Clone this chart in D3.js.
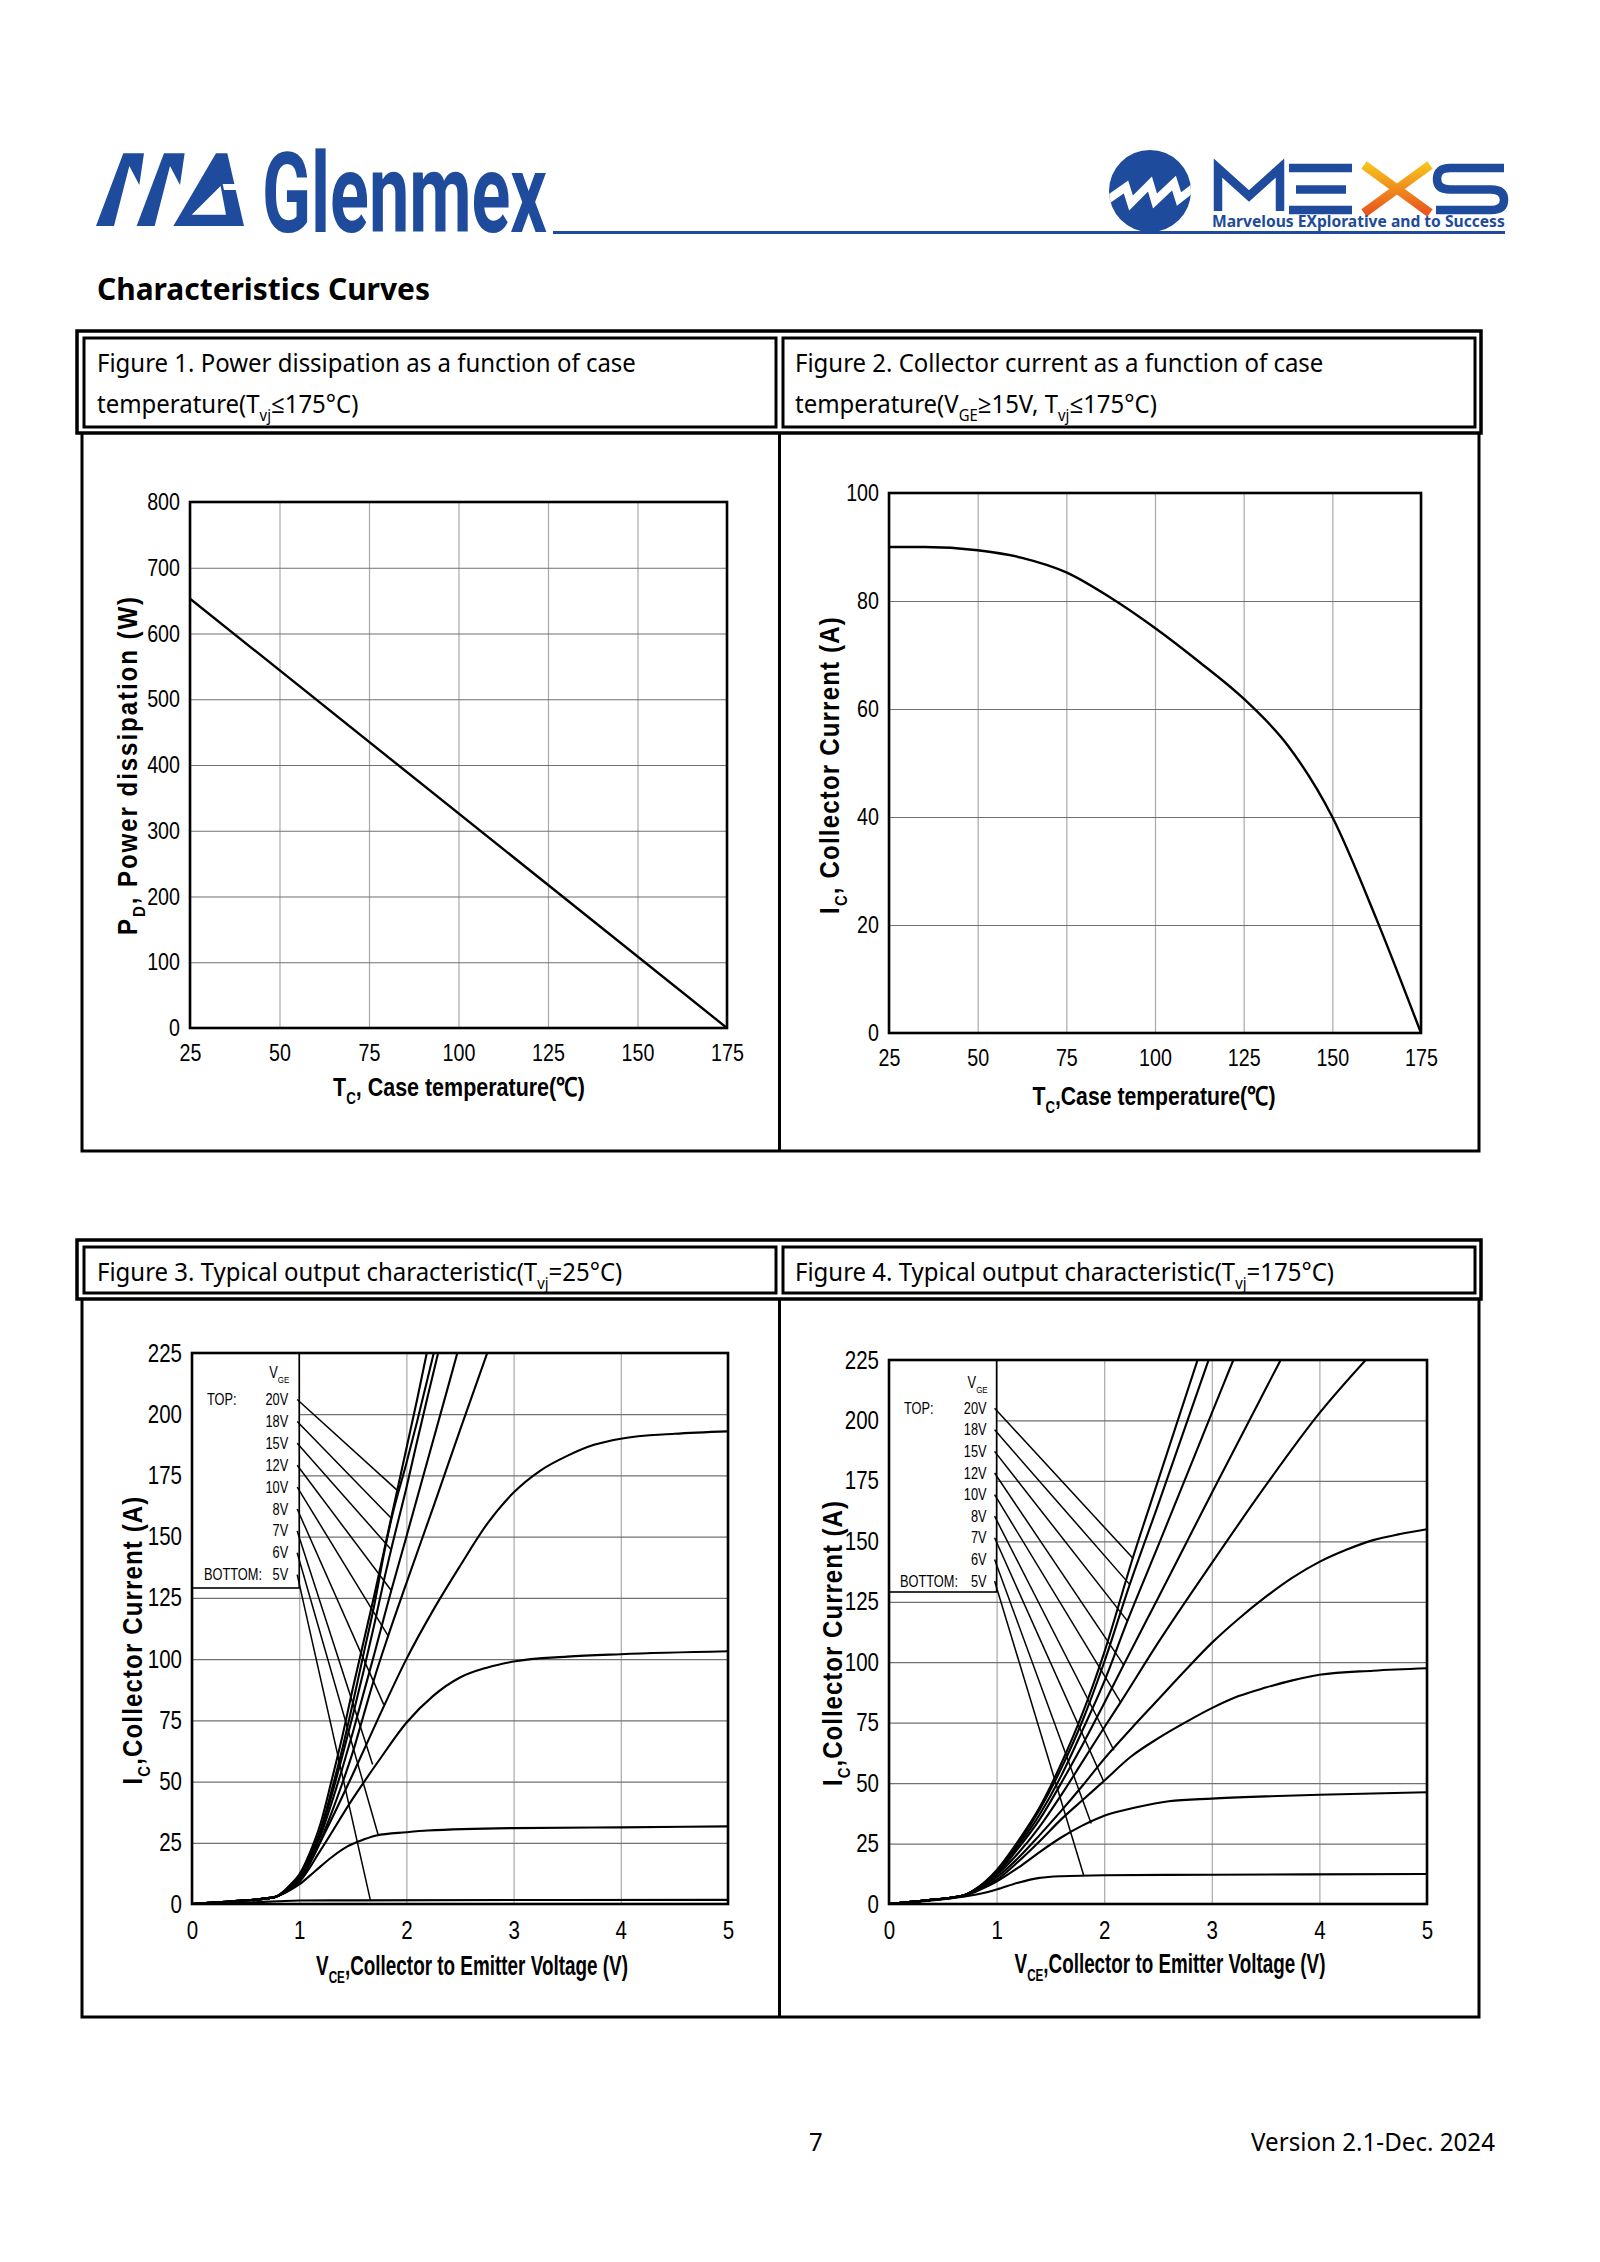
<!DOCTYPE html>
<html>
<head>
<meta charset="utf-8">
<title>Characteristics Curves</title>
<script src="https://cdn.jsdelivr.net/npm/d3@7/dist/d3.min.js"></script>
<style>
html,body{margin:0;padding:0;background:#fff;}
svg{display:block;}
</style>
</head>
<body>
<svg id="page" width="1600" height="2262" xmlns="http://www.w3.org/2000/svg"></svg>
<script>
// ================= DATA =================
// Figure 1: power dissipation vs case temperature
const fig1Temperature = [25, 175];
const fig1Power = [653, 0];
const fig1XTicks = [25, 50, 75, 100, 125, 150, 175];
const fig1YTicks = [0, 100, 200, 300, 400, 500, 600, 700, 800];

// Figure 2: collector current vs case temperature
const fig2Temperature = [25, 35, 50, 62.5, 75, 87.5, 100, 112.5, 125, 137.5, 150, 162.5, 175];
const fig2Current = [90, 90, 89.4, 88, 85.3, 80.6, 75, 68.7, 61.9, 53.2, 40, 21, 0];
const fig2XTicks = [25, 50, 75, 100, 125, 150, 175];
const fig2YTicks = [0, 20, 40, 60, 80, 100];

// Figures 3 and 4: output characteristics, [VCE (V), IC (A)]
const vgeLabels = ["20V", "18V", "15V", "12V", "10V", "8V", "7V", "6V", "5V"];
const outXTicks = [0, 1, 2, 3, 4, 5];
const outYTicks = [0, 25, 50, 75, 100, 125, 150, 175, 200, 225];

const fig3Curve20V = [[0,0],[0.4,1.2],[0.77,2.8],[0.85,5],[0.92,8],[1.0,12],[1.1,21],[1.2,33],[1.3,50],[1.4,68],[1.5,88],[1.6,107],[1.7,126],[1.8,146],[1.9,166],[2.0,186],[2.1,206],[2.19,225]];
const fig3Curve18V = [[0,0],[0.4,1.2],[0.77,2.8],[0.85,4.8],[0.92,7.5],[1.0,11],[1.1,19.5],[1.2,30.5],[1.3,46],[1.4,63],[1.5,82],[1.6,102],[1.7,122],[1.8,145],[1.859,157],[2.0,180],[2.1,197],[2.2,215],[2.255,225]];
const fig3Curve15V = [[0,0],[0.4,1.2],[0.77,2.8],[0.85,4.7],[0.92,7.3],[1.0,11],[1.1,19],[1.2,29.5],[1.3,44],[1.4,60],[1.5,77],[1.6,95],[1.7,114],[1.8,134],[1.859,145],[2.0,170],[2.1,189],[2.2,207.5],[2.296,225]];
const fig3Curve12V = [[0,0],[0.4,1.2],[0.77,2.8],[0.85,4.6],[0.92,7],[1.0,10.5],[1.1,18],[1.2,28],[1.3,41],[1.4,55],[1.5,70],[1.6,86],[1.7,102],[1.8,118.5],[1.859,128],[2.0,150],[2.2,181.5],[2.4,213],[2.475,225]];
const fig3Curve10V = [[0,0],[0.4,1.2],[0.77,2.8],[0.85,4.5],[0.92,6.8],[1.0,10],[1.1,17],[1.2,26],[1.3,37],[1.4,49],[1.5,62],[1.6,77],[1.7,92],[1.83,109.5],[2.0,131],[2.25,162],[2.5,193.5],[2.754,225]];
const fig3Curve8V = [[0,0],[0.4,1.2],[0.77,2.8],[0.85,4.4],[0.92,6.5],[1.0,9.5],[1.25,30],[1.5,53],[1.75,77],[2.0,100],[2.25,120],[2.5,138],[2.75,155],[3.0,168],[3.25,177],[3.5,183],[3.75,187.5],[4.0,190],[4.5,192],[5.0,193]];
const fig3Curve7V = [[0,0],[0.4,1.2],[0.77,2.8],[0.85,4.3],[0.92,6.2],[1.0,9],[1.2,22],[1.5,43],[1.75,59],[2.0,74],[2.25,85],[2.5,92.5],[2.75,96.5],[3.0,99],[3.5,101],[4.0,102],[5.0,103.2]];
const fig3Curve6V = [[0,0],[0.4,1.2],[0.77,2.8],[0.85,4.2],[0.92,5.8],[1.0,8],[1.15,13.5],[1.3,19],[1.45,23.5],[1.6,26.3],[1.72,28],[2.0,29.3],[2.2,30],[3.0,31],[4.0,31.3],[5.0,31.7]];
const fig3Curve5V = [[0,0],[0.5,0.6],[0.8,1.1],[1.0,1.4],[1.5,1.5],[5.0,1.7]];
const fig3LeaderV = [1.913, 1.859, 1.859, 1.859, 1.83, 1.789, 1.685, 1.735, 1.664];
const fig3LeaderI = [169, 157.5, 144.7, 128, 109.5, 81.4, 57, 28.5, 1.6];

const fig4Curve20V = [[0,0],[0.35,1.5],[0.69,3.5],[0.8,6],[0.9,9.5],[1.0,14],[1.2,26],[1.4,40],[1.6,58],[1.8,79],[2.0,104],[2.265,143],[2.5,175],[2.868,225]];
const fig4Curve18V = [[0,0],[0.35,1.5],[0.69,3.5],[0.8,6],[0.9,9.3],[1.0,13.5],[1.2,25],[1.4,39],[1.6,56],[1.8,76],[2.0,100],[2.236,132],[2.5,165],[2.97,225]];
const fig4Curve15V = [[0,0],[0.35,1.5],[0.69,3.5],[0.8,5.9],[0.9,9],[1.0,13],[1.2,24],[1.4,37],[1.6,53],[1.8,72],[2.0,92],[2.215,117],[2.5,148],[3.0,203],[3.2,225]];
const fig4Curve12V = [[0,0],[0.35,1.5],[0.69,3.5],[0.8,5.8],[0.9,8.8],[1.0,12.5],[1.2,23],[1.4,35],[1.6,50],[1.8,66],[2.0,83],[2.182,99],[2.5,126.5],[3.0,170],[3.5,213],[3.64,225]];
const fig4Curve10V = [[0,0],[0.35,1.5],[0.69,3.5],[0.8,5.7],[0.9,8.5],[1.0,12],[1.2,21],[1.4,32],[1.6,45],[1.8,59],[2.0,73],[2.153,83.5],[2.5,108],[3.0,141],[3.5,173],[4.0,203],[4.43,225]];
const fig4Curve8V = [[0,0],[0.35,1.5],[0.69,3.5],[0.8,5.5],[0.9,8],[1.0,11],[1.2,19],[1.4,28.5],[1.6,38.5],[1.8,49],[2.0,60],[2.25,72.5],[2.5,84.5],[2.75,96.5],[3.0,108],[3.25,118],[3.5,127],[3.75,135],[4.0,141.5],[4.25,146.5],[4.5,150.5],[4.75,153],[5.0,155]];
const fig4Curve7V = [[0,0],[0.35,1.5],[0.69,3.5],[0.8,5.3],[0.9,7.5],[1.0,10],[1.2,17.5],[1.4,26],[1.6,35],[1.8,43],[2.0,51],[2.25,61],[2.5,68.5],[2.75,75],[3.0,81],[3.25,86],[3.5,89.5],[3.75,92.5],[4.0,94.8],[4.5,96.5],[5.0,97.5]];
const fig4Curve6V = [[0,0],[0.35,1.5],[0.69,3.3],[0.8,5],[0.9,7],[1.0,9.3],[1.2,15],[1.4,21.5],[1.6,27.5],[1.8,32.5],[2.0,36.5],[2.3,40],[2.6,42.5],[3.0,43.6],[3.5,44.5],[4.0,45.2],[5.0,46.2]];
const fig4Curve5V = [[0,0],[0.35,1.3],[0.69,3],[0.8,3.8],[0.9,4.8],[1.0,6],[1.2,8.8],[1.4,10.8],[1.6,11.5],[2.0,11.9],[3.0,12.1],[5.0,12.4]];
const fig4LeaderV = [2.265, 2.236, 2.215, 2.182, 2.153, 2.09, 1.995, 1.879, 1.81];
const fig4LeaderI = [143.1, 132.2, 117.1, 98.8, 83.4, 63.6, 50.7, 33.3, 11.75];

// ================= DRAWING =================
const page = d3.select('#page');
const SANS = "'Liberation Sans', Arial, Helvetica, sans-serif";
const NOTO = "'Noto Sans', 'Open Sans', 'DejaVu Sans', sans-serif";
const BLUE = '#1e4b9b';
const NARROW = 0.82;

page.append('rect').attr('width', 1600).attr('height', 2262).attr('fill', '#fff');

function addText(parent, o) {
  const t = parent.append('text')
    .attr('font-family', o.family || SANS)
    .attr('font-size', o.size)
    .attr('font-weight', o.weight || 'normal')
    .attr('text-anchor', o.anchor || 'start')
    .attr('fill', o.fill || '#000');
  const parts = o.parts || [[o.str, 0]];
  const shift = o.size * 0.3;
  let prevSub = false;
  parts.forEach(([s, sub]) => {
    const sp = t.append('tspan').text(s);
    if (sub) sp.attr('font-size', o.size * 0.62).attr('dy', shift);
    else if (prevSub) sp.attr('dy', -shift);
    prevSub = !!sub;
  });
  let sx = o.sx || 1;
  if (o.fitWidth) {
    const w = t.node().getComputedTextLength();
    if (o.fitMode === 'spacing') {
      const n = parts.map(p => p[0]).join('').length;
      t.attr('letter-spacing', (o.fitWidth / sx - w) / n);
    } else {
      sx = o.fitWidth / w;
    }
  }
  t.attr('transform', `translate(${o.x},${o.y}) rotate(${o.rot || 0}) scale(${sx},1)`);
  t.node().__sx = sx;
  return t;
}

// ---------- Header logos ----------
const logoL = page.append('g').attr('transform', 'translate(90,140) scale(0.3333)').attr('fill', BLUE);
logoL.append('polygon').attr('points', '18,258 72,258 118,78 148,135 162,40 100,40');
logoL.append('polygon').attr('points', '140,258 194,258 240,78 270,135 284,40 222,40');
logoL.append('polygon').attr('points', '250,258 462,258 412,40 378,40');
logoL.append('polygon').attr('points', '305,224 408,224 392,138').attr('fill', '#fff');
logoL.append('polygon').attr('points', '398,132 452,132 456,150 402,150').attr('fill', '#fff');
addText(page, {x: 262, y: 232, str: 'Glenmex', size: 112, weight: 'bold', family: "Roboto, 'Liberation Sans', sans-serif", fill: BLUE, fitWidth: 285});

page.append('line').attr('x1', 553).attr('x2', 1505).attr('y1', 232.5).attr('y2', 232.5)
  .attr('stroke', BLUE).attr('stroke-width', 3);

// MEXS logo
const defs = page.append('defs');
const grad = defs.append('linearGradient').attr('id', 'xgrad').attr('x1', 0).attr('y1', 0).attr('x2', 0).attr('y2', 1);
grad.append('stop').attr('offset', '0%').attr('stop-color', '#f6c21c');
grad.append('stop').attr('offset', '100%').attr('stop-color', '#e8551e');
defs.append('clipPath').attr('id', 'circClip').append('circle').attr('cx', 1150).attr('cy', 191).attr('r', 41);
page.append('circle').attr('cx', 1150).attr('cy', 191).attr('r', 41).attr('fill', BLUE);
page.append('polyline').attr('clip-path', 'url(#circClip)')
  .attr('points', '1106,201 1126,187 1131,203 1150,184 1155,201 1174,183 1179,199 1196,186')
  .attr('fill', 'none').attr('stroke', '#fff').attr('stroke-width', 8).attr('stroke-linejoin', 'miter');
const mexs = page.append('g').attr('fill', 'none').attr('stroke-width', 8.5);
mexs.append('polyline').attr('points', '1218,211 1218,168 1249,196 1280,168 1280,211').attr('stroke', BLUE).attr('stroke-linejoin', 'miter');
mexs.append('line').attr('x1', 1289).attr('x2', 1352).attr('y1', 168).attr('y2', 168).attr('stroke', BLUE);
mexs.append('line').attr('x1', 1296).attr('x2', 1346).attr('y1', 189.5).attr('y2', 189.5).attr('stroke', BLUE);
mexs.append('line').attr('x1', 1289).attr('x2', 1352).attr('y1', 210).attr('y2', 210).attr('stroke', BLUE);
mexs.append('path').attr('d', 'M1364,165 L1397,189 L1364,213 M1430,165 L1397,189 L1430,213').attr('stroke', 'url(#xgrad)').attr('stroke-width', 9);
mexs.append('path').attr('d', 'M1504,168 H1450 Q1437,168 1437,179 Q1437,189.5 1450,189.5 H1491 Q1504,189.5 1504,200 Q1504,210 1491,210 H1436').attr('stroke', BLUE);
addText(page, {x: 1212, y: 226.5, str: 'Marvelous EXplorative and to Success', size: 16, weight: 'bold', family: NOTO, fill: BLUE, fitWidth: 293});

addText(page, {x: 97, y: 300, str: 'Characteristics Curves', size: 31, weight: 'bold', family: NOTO, fitWidth: 333});

// ---------- Tables ----------
function headerRow(top, bottom) {
  const g = page.append('g').attr('fill', 'none').attr('stroke', '#000');
  g.append('rect').attr('x', 77).attr('y', top).attr('width', 1404).attr('height', bottom - top).attr('stroke-width', 3.5);
  g.append('rect').attr('x', 84).attr('y', top + 7).attr('width', 692).attr('height', bottom - top - 13).attr('stroke-width', 3);
  g.append('rect').attr('x', 783).attr('y', top + 7).attr('width', 692).attr('height', bottom - top - 13).attr('stroke-width', 3);
}
function bodyRow(top, bottom) {
  const g = page.append('g').attr('fill', 'none').attr('stroke', '#000').attr('stroke-width', 3);
  g.append('path').attr('d', `M82,${top} V${bottom} H1479 V${top} M779.5,${top} V${bottom}`);
}
headerRow(331, 433);
bodyRow(433, 1151);
headerRow(1240, 1299);
bodyRow(1299, 2017);

// header texts
const h1 = addText(page, {x: 97, y: 372, str: 'Figure 1. Power dissipation as a function of case', size: 25, family: NOTO, fitWidth: 539});
const HSX = h1.node().__sx;
addText(page, {x: 97, y: 413, parts: [['temperature(T', 0], ['vj', 1], ['≤175°C)', 0]], size: 25, family: NOTO, sx: HSX});
addText(page, {x: 795, y: 372, str: 'Figure 2. Collector current as a function of case', size: 25, family: NOTO, sx: HSX});
addText(page, {x: 795, y: 413, parts: [['temperature(V', 0], ['GE', 1], ['≥15V, T', 0], ['vj', 1], ['≤175°C)', 0]], size: 25, family: NOTO, sx: HSX});
addText(page, {x: 97, y: 1281, parts: [['Figure 3. Typical output characteristic(T', 0], ['vj', 1], ['=25°C)', 0]], size: 25, family: NOTO, sx: HSX});
addText(page, {x: 795, y: 1281, parts: [['Figure 4. Typical output characteristic(T', 0], ['vj', 1], ['=175°C)', 0]], size: 25, family: NOTO, sx: HSX});

// footer
addText(page, {x: 809, y: 2151, str: '7', size: 25, family: NOTO, sx: HSX});
addText(page, {x: 1495, y: 2151, str: 'Version 2.1-Dec. 2024', size: 25, family: NOTO, anchor: 'end', fitWidth: 244});

// ---------- Chart helper ----------
let clipId = 0;
function drawChart(c) {
  const g = page.append('g');
  const x = d3.scaleLinear().domain(c.xDomain).range([c.left, c.right]);
  const y = d3.scaleLinear().domain(c.yDomain).range([c.bottom, c.top]);
  const W = c.right - c.left, H = c.bottom - c.top;

  // grid
  g.append('g').attr('transform', `translate(0,${c.bottom})`)
    .call(d3.axisBottom(x).tickValues(c.xTicks).tickSize(-H).tickFormat(''))
    .call(a => { a.select('.domain').remove(); a.selectAll('line').attr('stroke', '#a9a9a9').attr('stroke-width', 1.2); });
  g.append('g').attr('transform', `translate(${c.left},0)`)
    .call(d3.axisLeft(y).tickValues(c.yTicks).tickSize(-W).tickFormat(''))
    .call(a => { a.select('.domain').remove(); a.selectAll('line').attr('stroke', '#707070').attr('stroke-width', 1.2); });

  // tick labels
  const styleLabels = a => {
    a.select('.domain').remove();
    a.selectAll('.tick line').remove();
    a.selectAll('.tick text').each(function () {
      const t = d3.select(this);
      const tx = +t.attr('x') || 0;
      t.attr('x', tx / NARROW).attr('transform', `scale(${NARROW},1)`)
        .attr('font-family', SANS).attr('font-size', c.tickSize).attr('fill', '#000');
    });
  };
  g.append('g').attr('transform', `translate(0,${c.bottom})`)
    .call(d3.axisBottom(x).tickValues(c.xTicks).tickSize(0).tickPadding(c.xPad).tickFormat(d3.format('d')))
    .call(styleLabels);
  g.append('g').attr('transform', `translate(${c.left},0)`)
    .call(d3.axisLeft(y).tickValues(c.yTicks).tickSize(0).tickPadding(10).tickFormat(d3.format('d')))
    .call(styleLabels);

  // titles
  addText(g, {x: c.xTitle[0], y: c.xTitle[1], parts: c.xTitleParts, size: c.titleSize, weight: 'bold', anchor: 'middle', fitWidth: c.xTitle[2]});
  addText(g, {x: c.yTitle[0], y: c.yTitle[1], parts: c.yTitleParts, size: c.yTitleSize, weight: 'bold', anchor: 'middle', rot: -90, sx: 0.86, fitMode: 'spacing', fitWidth: c.yTitle[2]});

  const id = 'clip' + (clipId++);
  g.append('clipPath').attr('id', id).append('rect').attr('x', c.left).attr('y', c.top).attr('width', W).attr('height', H);
  const plot = g.append('g').attr('clip-path', `url(#${id})`);
  return {g, plot, x, y};
}

// ---------- Figure 1 ----------
{
  const ch = drawChart({left: 190, right: 727, top: 502, bottom: 1028, xDomain: [25, 175], yDomain: [0, 800],
    xTicks: fig1XTicks, yTicks: fig1YTicks, tickSize: 24, xPad: 16, titleSize: 26, yTitleSize: 28,
    xTitle: [459, 1096, 252], xTitleParts: [['T', 0], ['C', 1], [', Case temperature(℃)', 0]],
    yTitle: [137, 765, 340], yTitleParts: [['P', 0], ['D', 1], [', Power dissipation (W)', 0]]});
  const pts = fig1Temperature.map((t, i) => [t, fig1Power[i]]);
  ch.plot.append('path').datum(pts)
    .attr('d', d3.line().x(d => ch.x(d[0])).y(d => ch.y(d[1])))
    .attr('fill', 'none').attr('stroke', '#000').attr('stroke-width', 2.4);
  ch.g.append('rect').attr('x', 190).attr('y', 502).attr('width', 537).attr('height', 526)
    .attr('fill', 'none').attr('stroke', '#000').attr('stroke-width', 2.6);
}

// ---------- Figure 2 ----------
{
  const ch = drawChart({left: 889, right: 1421, top: 493, bottom: 1033, xDomain: [25, 175], yDomain: [0, 100],
    xTicks: fig2XTicks, yTicks: fig2YTicks, tickSize: 24, xPad: 16, titleSize: 26, yTitleSize: 28,
    xTitle: [1154, 1105, 243], xTitleParts: [['T', 0], ['C', 1], [',Case temperature(℃)', 0]],
    yTitle: [839, 765, 298], yTitleParts: [['I', 0], ['C', 1], [', Collector Current (A)', 0]]});
  const pts = fig2Temperature.map((t, i) => [t, fig2Current[i]]);
  ch.plot.append('path').datum(pts)
    .attr('d', d3.line().x(d => ch.x(d[0])).y(d => ch.y(d[1])).curve(d3.curveMonotoneX))
    .attr('fill', 'none').attr('stroke', '#000').attr('stroke-width', 2.4);
  ch.g.append('rect').attr('x', 889).attr('y', 493).attr('width', 532).attr('height', 540)
    .attr('fill', 'none').attr('stroke', '#000').attr('stroke-width', 2.6);
}

// ---------- Figures 3 & 4 ----------
function outputChart(c, curves, leaderV, leaderI) {
  const ch = drawChart(Object.assign({xDomain: [0, 5], yDomain: [0, 225], xTicks: outXTicks, yTicks: outYTicks,
    tickSize: 25, xPad: 17, titleSize: 27, yTitleSize: 28,
    xTitleParts: [['V', 0], ['CE', 1], [',Collector to Emitter Voltage (V)', 0]],
    yTitleParts: [['I', 0], ['C', 1], [',Collector Current (A)', 0]]}, c));
  const {g, plot, x, y} = ch;
  const boxR = x(1);
  const LS = 16, LSX = 0.8;
  // legend box
  g.append('rect').attr('x', c.left).attr('y', c.top).attr('width', boxR - c.left).attr('height', c.boxH)
    .attr('fill', '#fff').attr('stroke', '#000').attr('stroke-width', 1.6);
  const lg = g.append('g');
  addText(lg, {x: boxR - c.lblOff + 1, y: c.top + c.vgeY + 6, parts: [['V', 0], ['GE', 1]], size: LS, anchor: 'end', sx: LSX});
  vgeLabels.forEach((lab, i) => {
    const cy = c.top + c.row0 + i * c.rowStep;
    addText(lg, {x: boxR - c.lblOff, y: cy + 6, str: lab, size: LS, anchor: 'end', sx: LSX});
  });
  addText(lg, {x: c.left + c.topX, y: c.top + c.row0 + 6, str: 'TOP:', size: LS, sx: LSX});
  addText(lg, {x: c.left + c.botX, y: c.top + c.row0 + 8 * c.rowStep + 6, str: 'BOTTOM:', size: LS, sx: LSX});

  // curves
  const line = d3.line().x(d => x(d[0])).y(d => y(d[1])).curve(d3.curveMonotoneX);
  plot.selectAll('path.curve').data(curves).join('path').attr('class', 'curve')
    .attr('d', line).attr('fill', 'none').attr('stroke', '#000').attr('stroke-width', 2.1);
  // leader lines
  g.selectAll('line.leader').data(vgeLabels).join('line').attr('class', 'leader')
    .attr('x1', boxR - 2).attr('y1', (d, i) => c.top + c.row0 + i * c.rowStep + 0.5)
    .attr('x2', (d, i) => x(leaderV[i])).attr('y2', (d, i) => y(leaderI[i]))
    .attr('stroke', '#000').attr('stroke-width', 1.5);
  g.append('rect').attr('x', c.left).attr('y', c.top).attr('width', c.right - c.left).attr('height', c.bottom - c.top)
    .attr('fill', 'none').attr('stroke', '#000').attr('stroke-width', 2.6);
}

outputChart({left: 192, right: 728, top: 1353, bottom: 1904, xTitle: [472, 1975, 312], yTitle: [142, 1640, 289],
  boxH: 235, vgeY: 19, row0: 46, rowStep: 21.9, lblOff: 11, topX: 15, botX: 12},
  [fig3Curve20V, fig3Curve18V, fig3Curve15V, fig3Curve12V, fig3Curve10V, fig3Curve8V, fig3Curve7V, fig3Curve6V, fig3Curve5V],
  fig3LeaderV, fig3LeaderI);

outputChart({left: 889, right: 1427, top: 1360, bottom: 1904, xTitle: [1170, 1973, 311], yTitle: [842, 1643, 286],
  boxH: 232, vgeY: 22, row0: 47.7, rowStep: 21.6, lblOff: 10, topX: 15, botX: 11},
  [fig4Curve20V, fig4Curve18V, fig4Curve15V, fig4Curve12V, fig4Curve10V, fig4Curve8V, fig4Curve7V, fig4Curve6V, fig4Curve5V],
  fig4LeaderV, fig4LeaderI);
</script>
</body>
</html>
